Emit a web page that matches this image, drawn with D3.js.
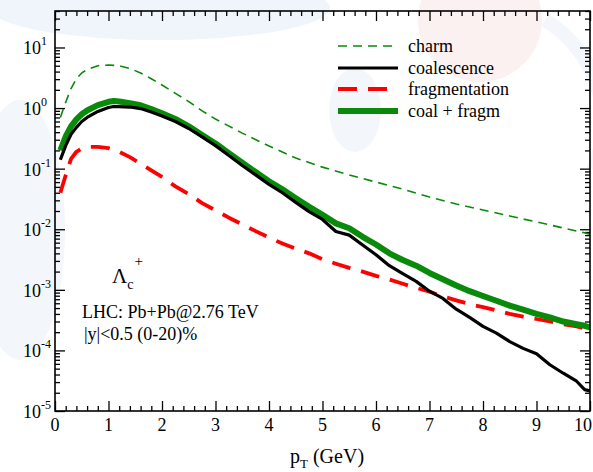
<!DOCTYPE html>
<html><head><meta charset="utf-8">
<script src="https://cdn.jsdelivr.net/npm/d3@7"></script>
<style>html,body{margin:0;padding:0;background:#fff;}svg{display:block;}</style>
</head><body>
<script>
// ---- data ----
const ptCharm = [0.1,0.2,0.3,0.4,0.5,0.6,0.8,1.0,1.2,1.4,1.6,1.8,2.0,2.25,2.5,2.75,3.0,3.5,4.0,4.5,5.0,5.5,6.0,6.5,7.0,7.5,8.0,8.5,9.0,9.5,10.0];
const charm = [0.70,1.25,2.1,3.05,3.8,4.3,5.0,5.15,5.0,4.5,3.8,3.05,2.4,1.75,1.28,0.90,0.658,0.386,0.236,0.150,0.106,0.0783,0.0601,0.0460,0.0340,0.0261,0.0208,0.0165,0.0132,0.0105,0.0083];

const pt = [0.1,0.2,0.3,0.4,0.5,0.6,0.8,1.0,1.1,1.2,1.4,1.6,1.8,2.0,2.25,2.5,2.75,3.0,3.25,3.5,3.75,4.0,4.25,4.5,4.75,5.0,5.25,5.5,5.75,6.0,6.25,6.5,6.75,7.0,7.25,7.5,7.75,8.0,8.25,8.5,8.75,9.0,9.25,9.5,9.75,9.9,10.0];
const coalescence = [0.14,0.24,0.37,0.48,0.60,0.70,0.88,1.02,1.06,1.06,1.04,0.98,0.86,0.74,0.60,0.46,0.335,0.24,0.165,0.113,0.079,0.055,0.040,0.0278,0.0195,0.0145,0.0092,0.0080,0.0055,0.0038,0.0025,0.00185,0.00138,0.00095,0.00072,0.00048,0.00035,0.00025,0.000193,0.000140,0.000108,0.000088,0.000058,0.000042,0.000031,0.0000225,0.0000215];
const fragmentation = [0.040,0.078,0.145,0.19,0.215,0.228,0.228,0.218,0.205,0.19,0.155,0.121,0.094,0.073,0.051,0.038,0.027,0.0205,0.0155,0.0120,0.0093,0.0073,0.0058,0.0048,0.0040,0.0032,0.0027,0.0023,0.0020,0.00170,0.00148,0.00126,0.00108,0.00093,0.00078,0.00067,0.00058,0.00052,0.00046,0.00040,0.00036,0.00033,0.00030,0.00027,0.00025,0.00023,0.00022];
const coalFragm = [0.20,0.34,0.50,0.65,0.79,0.91,1.12,1.27,1.31,1.28,1.20,1.11,0.96,0.82,0.66,0.50,0.36,0.26,0.18,0.125,0.088,0.062,0.0455,0.0325,0.0235,0.0173,0.0125,0.0104,0.0075,0.0056,0.0040,0.0031,0.0025,0.00190,0.00150,0.00118,0.00095,0.00079,0.00066,0.00055,0.00047,0.00040,0.00035,0.00030,0.00027,0.000255,0.00024];

const xTicks = [0,1,2,3,4,5,6,7,8,9,10];
const yExps = [1,0,-1,-2,-3,-4,-5];
const legendLabels = ["charm","coalescence","fragmentation","coal + fragm"];

// ---- chart ----
const W = 593, H = 472;
const L = 55, R = 590, T = 11, B = 411;
const svg = d3.select("body").append("svg").attr("width", W).attr("height", H);

// faint background decoration
const bg = svg.append("g");
bg.append("ellipse").attr("cx",160).attr("cy",8).attr("rx",170).attr("ry",32).attr("fill","#f0f4fb");
bg.append("ellipse").attr("cx",20).attr("cy",230).attr("rx",45).attr("ry",130).attr("fill","#f3f6fb");
bg.append("circle").attr("cx",480).attr("cy",20).attr("r",62).attr("fill","#fcf1f1");
bg.append("ellipse").attr("cx",355).attr("cy",110).attr("rx",26).attr("ry",42).attr("fill","#f3f6fb");
bg.append("path").attr("d","M545,20 A120,120 0 0 1 593,170").attr("fill","none").attr("stroke","#f3f6fb").attr("stroke-width",14);

const x = d3.scaleLinear().domain([0,10]).range([L,R]);
const y = d3.scaleLog().domain([1e-5,40]).range([B,T]);

const font = "'Liberation Serif','DejaVu Serif',serif";

// minor/major tick values
const xMinor = d3.range(0,10.001,0.2).filter(v => Math.abs(v-Math.round(v))>1e-6);
const yMinor = [];
for (let e=-5; e<=1; e++) for (let m=2; m<=9; m++) { const v=m*Math.pow(10,e); if (v<=40) yMinor.push(v); }
const yMajor = yExps.map(e => Math.pow(10,e));

function axisG(axis, tr) {
  const g = svg.append("g").attr("transform", tr).call(axis);
  g.select(".domain").remove();
  g.selectAll("text").remove();
  g.selectAll("line").attr("stroke","#000").attr("stroke-width",1.3);
  return g;
}
axisG(d3.axisBottom(x).tickValues(xTicks).tickSize(-10), `translate(0,${B})`);
axisG(d3.axisBottom(x).tickValues(xMinor).tickSize(-5), `translate(0,${B})`);
axisG(d3.axisTop(x).tickValues(xTicks).tickSize(-10), `translate(0,${T})`);
axisG(d3.axisTop(x).tickValues(xMinor).tickSize(-5), `translate(0,${T})`);
axisG(d3.axisLeft(y).tickValues(yMajor).tickSize(-10), `translate(${L},0)`);
axisG(d3.axisLeft(y).tickValues(yMinor).tickSize(-5), `translate(${L},0)`);
axisG(d3.axisRight(y).tickValues(yMajor).tickSize(-10), `translate(${R},0)`);
axisG(d3.axisRight(y).tickValues(yMinor).tickSize(-5), `translate(${R},0)`);

// curves
svg.append("clipPath").attr("id","clip").append("rect").attr("x",L).attr("y",T).attr("width",R-L).attr("height",B-T);
const line = d3.line().x(d=>x(d[0])).y(d=>y(d[1]));
const plot = svg.append("g").attr("clip-path","url(#clip)");
const series = [
  {xs: ptCharm, ys: charm, color:"#0a8a0a", w:1.6, dash:"9,6"},
  {xs: pt, ys: coalescence, color:"#000", w:3.2, dash:null},
  {xs: pt, ys: fragmentation, color:"#ff0000", w:3.8, dash:"19,11"},
  {xs: pt, ys: coalFragm, color:"#0a8a0a", w:6, dash:null}
];
const drawOrder = [0,2,3,1];
drawOrder.forEach(i => {
  const s = series[i];
  plot.append("path").datum(s.xs.map((v,k)=>[v,s.ys[k]]))
    .attr("d", line).attr("fill","none").attr("stroke", s.color)
    .attr("stroke-width", s.w).attr("stroke-dasharray", s.dash)
    .attr("stroke-linejoin","round");
});

// frame
svg.append("rect").attr("x",L).attr("y",T).attr("width",R-L).attr("height",B-T)
  .attr("fill","none").attr("stroke","#000").attr("stroke-width",1.6);

// tick labels (last one kept inside the window)
svg.append("g").selectAll("text").data(xTicks).join("text")
  .attr("x", d=>Math.min(x(d), W-10)).attr("y", 431).attr("text-anchor","middle")
  .attr("font-family", font).attr("font-size", 18).text(d=>d);

const yl = svg.append("g").selectAll("text").data(yExps).join("text")
  .attr("x", 23).attr("y", d=>y(Math.pow(10,d))+7)
  .attr("font-family", font).attr("font-size", 18);
yl.append("tspan").text("10");
yl.append("tspan").attr("dy",-9).attr("font-size",12).text(d=>d);

// axis title
const xt = svg.append("text").attr("x", 290).attr("y", 463)
  .attr("font-family", font).attr("font-size", 20);
xt.append("tspan").text("p");
xt.append("tspan").attr("font-size",13).attr("dy",5).text("T");
xt.append("tspan").attr("dy",-5).text(" (GeV)");

// legend
const lg = svg.append("g");
legendLabels.forEach((lab,i) => {
  const s = series[i];
  const ly = [46,68,89,111][i];
  lg.append("line").attr("x1",338).attr("x2",398).attr("y1",ly).attr("y2",ly)
    .attr("stroke",s.color).attr("stroke-width",s.w).attr("stroke-dasharray",s.dash);
  lg.append("text").attr("x",408).attr("y",ly+6).attr("font-family",font)
    .attr("font-size",18).text(lab);
});

// annotation
const ann = svg.append("text").attr("x",112).attr("y",283).attr("font-family",font).attr("font-size",21);
ann.append("tspan").text("Λ");
ann.append("tspan").attr("font-size",14).attr("dy",6).text("c");
ann.append("tspan").attr("font-size",15).attr("dy",-23).attr("dx",1).text("+");
svg.append("text").attr("x",82).attr("y",318).attr("font-family",font).attr("font-size",18)
  .text("LHC: Pb+Pb@2.76 TeV");
svg.append("text").attr("x",84).attr("y",340).attr("font-family",font).attr("font-size",18)
  .text("|y|<0.5 (0-20)%");
</script>
</body></html>
